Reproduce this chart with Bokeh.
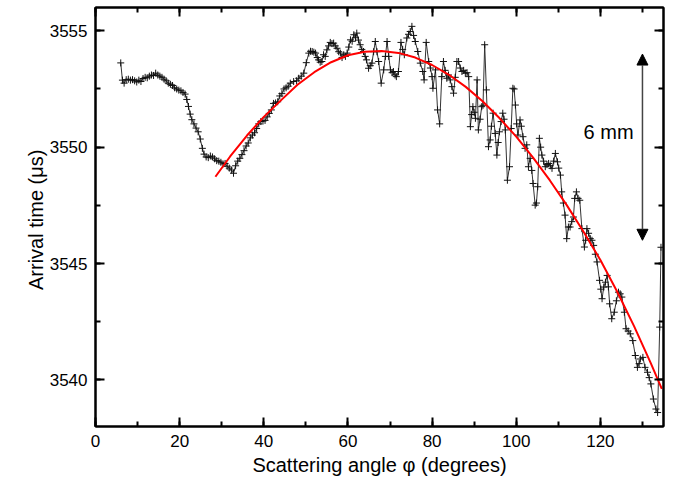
from bokeh.plotting import figure
from bokeh.models import (LinearAxis, SingleIntervalTicker, Range1d, Arrow,
                          NormalHead, Label, CustomLabelingPolicy)
from bokeh.embed import file_html
from bokeh.resources import INLINE

# measured arrival time versus scattering angle
angle = [
    6.0, 6.4, 6.8, 7.3, 7.8, 8.3, 8.8, 9.3, 9.8, 10.3, 10.8, 11.3, 11.8, 12.3,
    12.8, 13.3, 13.8, 14.3, 14.8, 15.3, 15.8, 16.3, 16.8, 17.3, 17.8, 18.3,
    18.8, 19.3, 19.8, 20.3, 20.8, 21.3, 21.7, 22.1, 22.5, 22.9, 23.4, 23.9,
    24.4, 24.9, 25.4, 25.8, 26.3, 26.8, 27.3, 27.8, 28.3, 28.8, 29.3, 29.8,
    30.3, 30.8, 31.3, 31.8, 32.3, 32.8, 33.3, 33.8, 34.3, 34.8, 35.3, 35.8,
    36.3, 36.8, 37.3, 37.8, 38.3, 38.8, 39.3, 39.8, 40.3, 40.8, 41.3, 41.8,
    42.3, 42.8, 43.3, 43.8, 44.3, 44.8, 45.3, 45.8, 46.3, 47.1, 47.8, 48.3,
    48.9, 49.5, 50.1, 50.7, 51.1, 51.5, 51.9, 52.3, 52.7, 53.0, 53.4, 53.8,
    54.2, 54.6, 55.0, 55.4, 55.8, 56.2, 56.6, 57.0, 57.4, 57.8, 58.2, 58.6,
    59.0, 59.4, 59.8, 60.2, 60.6, 61.0, 61.4, 61.8, 62.1, 62.5, 62.9, 63.3,
    63.7, 64.1, 64.4, 64.9, 65.3, 65.7, 66.1, 66.5, 66.9, 67.3, 67.9, 68.5,
    68.9, 69.3, 69.7, 70.1, 70.5, 70.8, 71.2, 71.5, 72.0, 72.6, 73.0, 73.4,
    74.0, 74.4, 74.8, 75.2, 75.6, 76.0, 76.6, 77.2, 77.8, 78.1, 78.6, 79.2,
    79.6, 80.0, 80.2, 80.8, 81.3, 81.8, 82.3, 82.7, 83.1, 83.5, 83.9, 84.3,
    84.7, 85.1, 85.5, 85.9, 86.3, 86.7, 87.1, 87.5, 87.9, 88.3, 88.7, 89.1,
    89.4, 89.7, 90.0, 90.3, 90.7, 91.0, 91.4, 91.8, 92.1, 92.5, 92.9, 93.4,
    93.8, 94.1, 94.5, 95.0, 95.4, 95.7, 96.0, 96.4, 96.8, 97.1, 97.4, 97.9,
    98.4, 98.8, 99.2, 99.5, 99.8, 100.1, 100.4, 100.9, 101.2, 101.6, 102.1,
    102.5, 102.9, 103.3, 103.7, 104.0, 104.5, 104.8, 105.1, 105.5, 105.8,
    106.1, 106.5, 106.9, 107.3, 107.7, 108.1, 108.5, 108.9, 109.3, 109.8,
    110.1, 110.5, 110.8, 111.2, 111.6, 112.0, 112.4, 112.8, 113.2, 113.6,
    113.9, 114.3, 114.7, 115.1, 115.6, 116.2, 116.5, 116.8, 117.2, 117.6,
    118.0, 118.4, 118.8, 119.2, 119.8, 120.1, 120.4, 120.8, 121.2, 121.6,
    121.9, 122.2, 122.7, 123.3, 123.8, 124.3, 124.7, 125.1, 125.7, 126.1,
    126.6, 127.1, 127.7, 128.3, 128.8, 129.2, 129.5, 130.1, 130.6, 131.2,
    131.6, 132.0, 132.6, 133.2, 133.6, 134.1, 134.4,
]
arrival = [
    3553.62, 3552.88, 3552.75, 3552.90, 3552.92, 3552.88, 3552.90, 3552.85,
    3552.80, 3552.88, 3552.82, 3552.95, 3553.00, 3552.98, 3553.05, 3553.10,
    3553.08, 3553.18, 3553.10, 3553.05, 3553.00, 3552.92, 3552.85, 3552.75,
    3552.70, 3552.65, 3552.55, 3552.50, 3552.45, 3552.42, 3552.35, 3552.28,
    3552.05, 3551.75, 3551.42, 3551.18, 3551.00, 3550.82, 3550.66, 3550.35,
    3549.95, 3549.70, 3549.58, 3549.55, 3549.62, 3549.58, 3549.50, 3549.42,
    3549.40, 3549.35, 3549.28, 3549.30, 3549.18, 3549.10, 3549.02, 3548.88,
    3549.20, 3549.40, 3549.52, 3549.68, 3549.85, 3550.05, 3550.18, 3550.40,
    3550.52, 3550.62, 3550.80, 3551.00, 3551.10, 3551.12, 3551.15, 3551.30,
    3551.45, 3551.60, 3551.88, 3551.90, 3551.95, 3552.20, 3552.30, 3552.50,
    3552.55, 3552.62, 3552.75, 3552.82, 3552.85, 3552.96, 3553.05, 3553.18,
    3553.63, 3554.04, 3554.12, 3554.11, 3554.08, 3554.04, 3553.85, 3553.75,
    3553.65, 3553.68, 3553.97, 3553.90, 3554.18, 3554.35, 3554.50, 3554.45,
    3554.47, 3554.35, 3554.25, 3554.10, 3554.04, 3553.85, 3553.97, 3553.90,
    3554.04, 3554.30, 3554.61, 3554.55, 3554.83, 3554.70, 3554.90, 3554.60,
    3554.40, 3554.20, 3554.11, 3553.90, 3553.75, 3553.39, 3553.50, 3553.61,
    3554.10, 3554.54, 3554.10, 3553.68, 3552.75, 3553.32, 3553.90, 3554.54,
    3553.90, 3553.32, 3553.20, 3553.25, 3553.10, 3553.03, 3553.25, 3554.50,
    3554.20, 3553.97, 3554.69, 3554.85, 3554.97, 3555.19, 3554.80, 3554.54,
    3554.11, 3553.61, 3553.25, 3552.89, 3554.50, 3553.68, 3553.40, 3553.03,
    3552.53, 3553.32, 3551.60, 3551.00, 3553.03, 3553.68, 3553.30, 3552.96,
    3553.10, 3552.89, 3552.60, 3552.32, 3553.00, 3553.68, 3553.68, 3553.40,
    3553.25, 3553.30, 3553.18, 3553.20, 3553.03, 3550.88, 3551.40, 3551.74,
    3551.50, 3551.24, 3552.89, 3550.74, 3551.20, 3551.74, 3551.80, 3554.40,
    3552.46, 3550.02, 3550.31, 3550.90, 3551.46, 3550.59, 3549.66, 3550.20,
    3550.66, 3551.10, 3551.46, 3551.20, 3550.74, 3548.58, 3549.16, 3550.80,
    3552.53, 3552.50, 3551.81, 3551.00, 3550.52, 3551.17, 3550.90, 3550.45,
    3549.95, 3550.10, 3549.16, 3549.52, 3549.00, 3548.44, 3547.51, 3547.60,
    3548.30, 3550.38, 3550.00, 3549.66, 3549.40, 3549.16, 3549.25, 3549.30,
    3549.20, 3549.09, 3549.40, 3549.73, 3549.37, 3549.10, 3548.80, 3548.08,
    3547.60, 3547.08, 3546.07, 3546.57, 3546.57, 3546.80, 3547.00, 3547.80,
    3548.08, 3547.80, 3547.72, 3546.50, 3545.71, 3546.00, 3546.50, 3546.30,
    3546.07, 3546.00, 3545.78, 3545.40, 3545.07, 3544.28, 3543.90, 3543.49,
    3543.99, 3544.20, 3544.49, 3544.00, 3543.27, 3542.63, 3542.91, 3543.40,
    3543.77, 3543.70, 3543.56, 3542.91, 3542.20, 3542.10, 3541.98, 3541.69,
    3541.05, 3540.54, 3540.70, 3540.90, 3540.97, 3540.54, 3540.33, 3540.10,
    3539.83, 3539.18, 3538.75, 3538.60, 3542.27, 3545.70,
]

# fitted curve
fit_angle = [28.5, 32, 36, 40, 44, 48, 52, 56, 60, 64, 68, 72, 76, 80, 84, 88,
             92, 96, 100, 104, 108, 112, 116, 120, 124, 128, 132, 134.6]
fit_arrival = [3548.73, 3549.60, 3550.50, 3551.30, 3552.00, 3552.68, 3553.22,
               3553.65, 3553.95, 3554.10, 3554.13, 3554.05, 3553.85, 3553.53,
               3553.11, 3552.59, 3551.97, 3551.25, 3550.45, 3549.55, 3548.57,
               3547.51, 3546.37, 3545.15, 3543.79, 3542.31, 3540.71, 3539.62]

FONT = "Liberation Sans"

p = figure(width=673, height=485, output_backend="svg", toolbar_location=None,
           x_range=Range1d(0, 135), y_range=Range1d(3538, 3556),
           min_border_left=95, min_border_right=10, min_border_top=7,
           min_border_bottom=59, x_axis_location=None, y_axis_location=None)
p.background_fill_color = "white"
p.border_fill_color = "white"
p.outline_line_color = "black"
p.outline_line_width = 2
p.xgrid.visible = False
p.ygrid.visible = False

# mirror axes keep their ticks but draw no labels
no_labels = CustomLabelingPolicy(code="""
    const ids = [...indices]
    for (const i of ids)
        indices.unset(i)
    return indices
""")


def style_axis(ax, show_labels):
    ax.axis_line_width = 2
    ax.axis_line_color = "black"
    ax.major_tick_line_width = 2
    ax.minor_tick_line_width = 2
    ax.major_tick_in = 9
    ax.major_tick_out = 0
    ax.minor_tick_in = 5
    ax.minor_tick_out = 0
    ax.major_label_text_font = FONT
    ax.axis_label_text_font = FONT
    ax.axis_label_text_font_style = "normal"
    ax.axis_label_text_font_size = "20px"
    ax.axis_label_text_color = "black"
    ax.major_label_text_color = "black"
    if show_labels:
        ax.major_label_text_font_size = "17px"
        ax.major_label_standoff = 8
    else:
        ax.major_label_text_font_size = "2px"
        ax.major_label_standoff = 0
        ax.major_label_policy = no_labels


xb = LinearAxis(ticker=SingleIntervalTicker(interval=20, num_minor_ticks=2),
                axis_label="Scattering angle \u03c6 (degrees)")
style_axis(xb, True)
xb.axis_label_standoff = 4
p.add_layout(xb, "below")

xt = LinearAxis(ticker=SingleIntervalTicker(interval=20, num_minor_ticks=2))
style_axis(xt, False)
p.add_layout(xt, "above")

yl = LinearAxis(ticker=SingleIntervalTicker(interval=5, num_minor_ticks=2),
                axis_label="Arrival time  (\u03bcs)")
style_axis(yl, True)
yl.axis_label_standoff = 0
p.add_layout(yl, "left")

yr = LinearAxis(ticker=SingleIntervalTicker(interval=5, num_minor_ticks=2))
style_axis(yr, False)
p.add_layout(yr, "right")

# measurements: thin connecting line with cross markers
p.line(angle, arrival, line_color="#333333", line_width=1)
p.scatter(angle, arrival, marker="cross", size=7, line_color="#111111",
          line_width=1)

# fit
p.line(fit_angle, fit_arrival, line_color="#ff0000", line_width=2)

# scale arrow
p.add_layout(Arrow(x_start=130, y_start=3546.0, x_end=130, y_end=3554.0,
                   line_color="#444444", line_width=1.5,
                   start=NormalHead(size=11, fill_color="black",
                                    line_color="black"),
                   end=NormalHead(size=11, fill_color="black",
                                  line_color="black")))
p.add_layout(Label(x=116, y=3550.65, text="6 mm", text_font=FONT,
                   text_font_size="20px", text_baseline="middle",
                   text_color="black"))

open("out.html", "w").write(file_html(p, INLINE))
